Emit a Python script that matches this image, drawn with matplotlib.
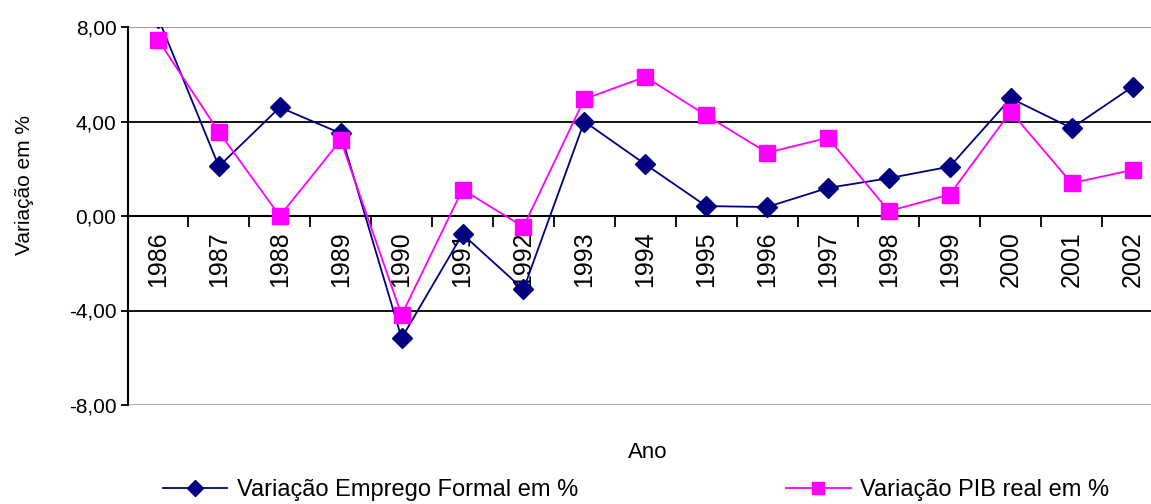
import matplotlib
matplotlib.use('Agg')
import matplotlib.pyplot as plt
import numpy as np

plt.rcParams['font.family'] = ['Liberation Sans', 'DejaVu Sans']

anos = ['1986', '1987', '1988', '1989', '1990', '1991', '1992', '1993', '1994',
        '1995', '1996', '1997', '1998', '1999', '2000', '2001', '2002']
emprego = [8.4, 2.1, 4.6, 3.5, -5.17, -0.77, -3.11, 4.0, 2.19,
           0.42, 0.38, 1.19, 1.6, 2.09, 4.98, 3.72, 5.47]
pib = [7.47, 3.56, 0.0, 3.21, -4.19, 1.12, -0.46, 4.95, 5.89,
       4.26, 2.68, 3.31, 0.21, 0.91, 4.42, 1.39, 1.95]
yticks = [-8, -4, 0, 4, 8]
ytick_labels = ['-8,00', '-4,00', '0,00', '4,00', '8,00']

W, H = 1151, 504
fig = plt.figure(figsize=(W / 100, H / 100), dpi=100)
ax = fig.add_axes([127.5 / W, 99 / H, (1163 - 127.5) / W, 378 / H])

x = np.arange(len(anos))
ax.set_xlim(-0.5, len(anos) - 0.5)
ax.set_ylim(-8, 8)

# grid lines (black at 4, -4; grey at the borders)
for v in [4, -4]:
    ax.axhline(v, color='black', lw=1.3, zorder=1)
ax.axhline(8, color='#a0a0a0', lw=1.5, zorder=1)
ax.axhline(-8, color='#a0a0a0', lw=2.0, zorder=1)

l1, = ax.plot(x, emprego, color='#000080', lw=1.3, marker='D', ms=10,
              markerfacecolor='#000080', markeredgecolor='#000080', zorder=3,
              label='Variação Emprego Formal em %')
l2, = ax.plot(x, pib, color='#ff00ff', lw=1.3, marker='s', ms=11,
              markerfacecolor='#ff00ff', markeredgecolor='#ff00ff', zorder=4,
              label='Variação PIB real em %')

for s in ['top', 'right']:
    ax.spines[s].set_visible(False)
ax.spines['bottom'].set_position(('data', 0))
ax.spines['bottom'].set_linewidth(1.5)
ax.spines['left'].set_linewidth(1.5)

ax.set_yticks(yticks)
ax.set_yticklabels(ytick_labels, fontsize=15)
ax.tick_params(axis='y', direction='out', length=5, width=1.3, pad=3)

ax.set_xticks(np.arange(len(anos) + 1) - 0.5)
ax.set_xticklabels([])
ax.tick_params(axis='x', which='major', direction='out', length=8, width=1.3)
ax.set_xticks(x, minor=True)
ax.set_xticklabels(anos, minor=True, rotation=90, fontsize=18)
ax.tick_params(axis='x', which='minor', length=0, pad=11)

fig.text(25 / W, 1 - 185 / H, 'Variação em %', rotation=90, ha='center', va='center', fontsize=15)
fig.text(648 / W, 1 - 452 / H, 'Ano', ha='center', va='center', fontsize=16)

fig.legend(handles=[l1, l2], loc='center', bbox_to_anchor=(636 / W, 1 - 490 / H),
           ncol=2, frameon=False, fontsize=17, columnspacing=8.8, handlelength=2.75,
           handletextpad=0.4, markerscale=0.8)

fig.savefig('out.png', dpi=100)
